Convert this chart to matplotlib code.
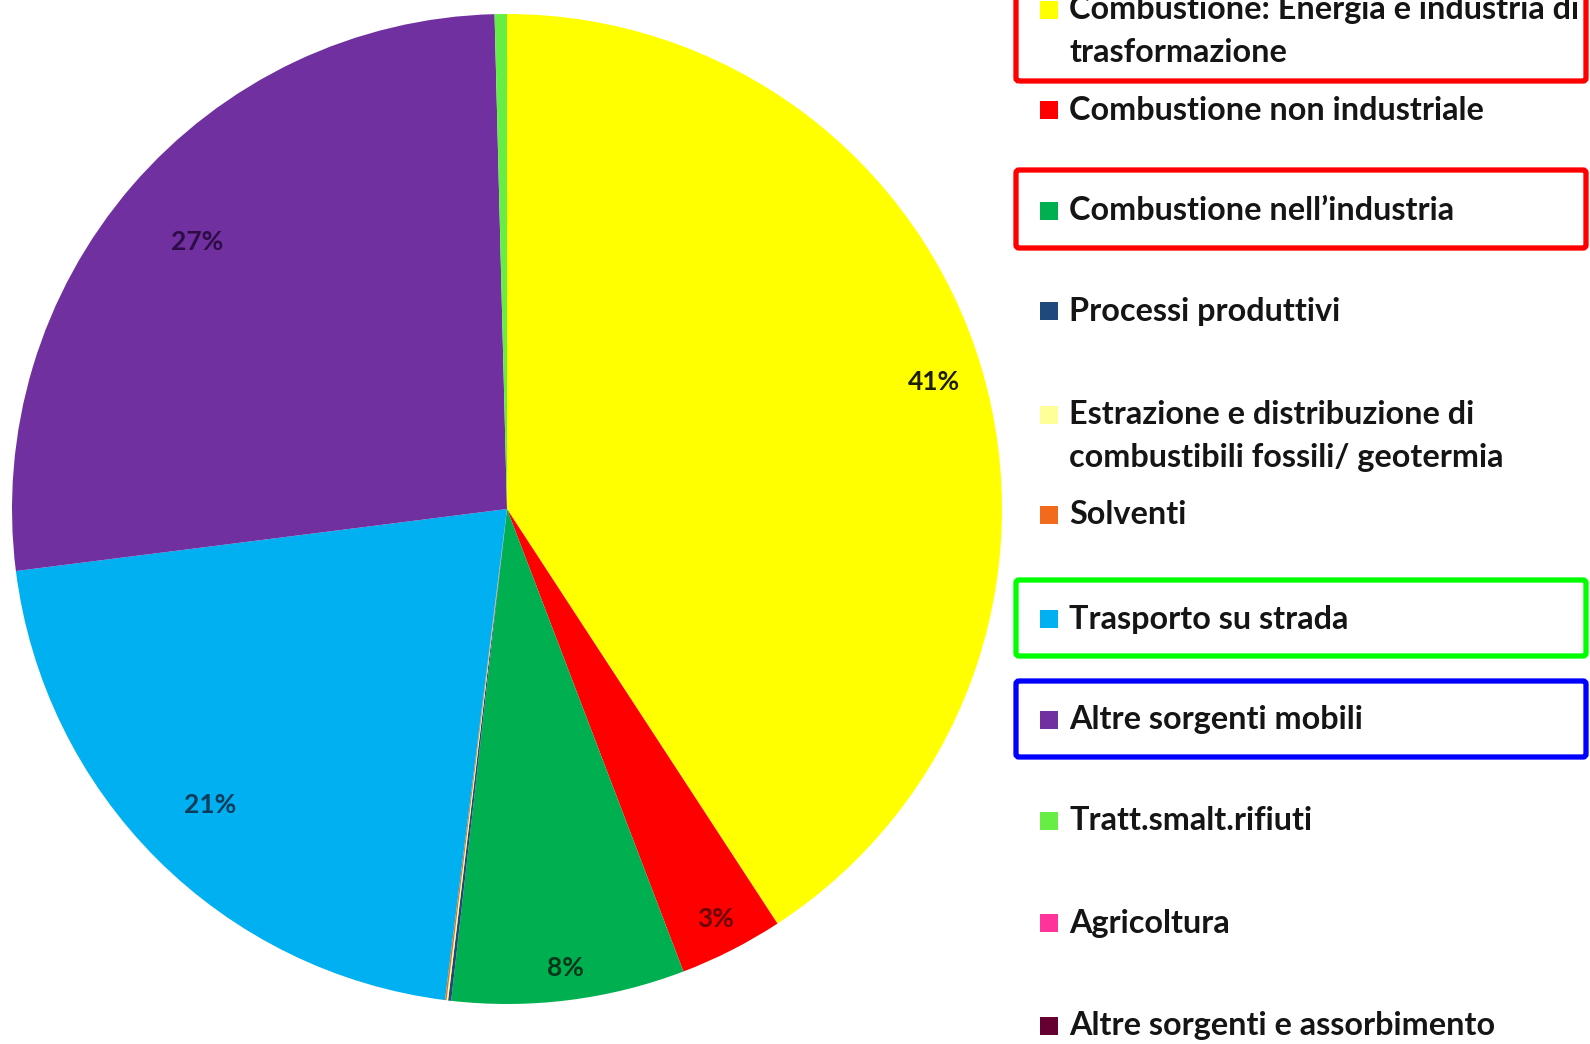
import matplotlib.pyplot as plt
from matplotlib.patches import Rectangle, FancyBboxPatch
import numpy as np

# emission shares by sector (%)
sectors = [
    "Combustione: Energia e industria di\ntrasformazione",
    "Combustione non industriale",
    "Combustione nell\u2019industria",
    "Processi produttivi",
    "Estrazione e distribuzione di\ncombustibili fossili/ geotermia",
    "Solventi",
    "Trasporto su strada",
    "Altre sorgenti mobili",
    "Tratt.smalt.rifiuti",
    "Agricoltura",
    "Altre sorgenti e assorbimento",
]
shares = [40.8, 3.4, 7.6, 0.1, 0.05, 0.05, 21.0, 26.6, 0.4, 0.0, 0.0]
colors = ["#FFFF00", "#FF0000", "#00B050", "#1F497D", "#FFFF99", "#F26B1D",
          "#00B0F0", "#7030A0", "#66EE44", "#FF3399", "#660033"]
label_colors = ["#1E1E00", "#6A0000", "#00361A", "#0F243E", "#333300", "#5A2000",
                "#0C3C5C", "#2E0C46", "#204010", "#600020", "#200010"]
# radial position of each percentage label (fraction of radius)
label_dist = [0.90, 0.93, 0.935, 0.8, 0.8, 0.8, 0.847, 0.826, 0.8, 0.8, 0.8]

W, H = 1590, 1044
fig = plt.figure(figsize=(W / 100, H / 100), dpi=100)
ax = fig.add_axes([0, 0, 1, 1])

cx, cy, r = 507, H - 509, 495
wedges, _ = ax.pie(shares, colors=colors, startangle=90, counterclock=False,
                   center=(cx, cy), radius=r, frame=True,
                   wedgeprops=dict(linewidth=0))
ax.set_xlim(0, W)
ax.set_ylim(0, H)
ax.axis("off")

total = sum(shares)
for w, v, d, lc in zip(wedges, shares, label_dist, label_colors):
    pct = 100 * v / total
    if pct < 1:
        continue
    ang = np.deg2rad((w.theta1 + w.theta2) / 2)
    ax.text(cx + d * r * np.cos(ang), cy + d * r * np.sin(ang), f"{pct:.0f}%",
            ha="center", va="center", fontsize=19, fontweight="bold",
            color=lc, family="Lato")

# legend, one slot per sector
entry_y = [10, 110, 211, 311, 415, 515, 619, 720, 821, 923, 1026]
line_gap = 42
for name, c, y in zip(sectors, colors, entry_y):
    ax.add_patch(Rectangle((1040, H - y - 9), 18, 18, color=c, lw=0))
    for k, line in enumerate(name.split("\n")):
        ax.text(1069, H - y - k * line_gap, line, ha="left", va="center",
                fontsize=23.3, fontweight="bold", color="#151515", family="Lato")

# highlight frames around selected entries
frames = [(-20, 81, "#FF0000"), (170, 248, "#FF0000"),
          (580, 656, "#00FF00"), (681, 757, "#0000FF")]
for top, bottom, ec in frames:
    ax.add_patch(FancyBboxPatch((1016, H - bottom), 1586 - 1016, bottom - top,
                                boxstyle="round,pad=0,rounding_size=3",
                                fill=False, ec=ec, lw=3.8))

fig.savefig("out.png", dpi=100, facecolor="white")
